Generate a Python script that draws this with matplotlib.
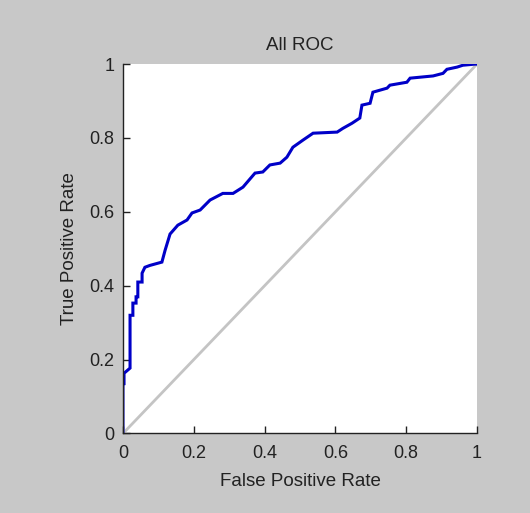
import matplotlib
matplotlib.use("Agg")
import matplotlib.pyplot as plt

# ROC curve points
fpr = [0.0, 0.0, 0.003, 0.003, 0.02, 0.02, 0.028, 0.028, 0.037, 0.037, 0.042, 0.042,
       0.054, 0.054, 0.062, 0.076, 0.11, 0.119, 0.133, 0.155, 0.181, 0.195, 0.218,
       0.246, 0.282, 0.311, 0.339, 0.373, 0.395, 0.415, 0.444, 0.463, 0.48, 0.508,
       0.537, 0.605, 0.621, 0.647, 0.669, 0.675, 0.698, 0.706, 0.746, 0.754, 0.802,
       0.811, 0.876, 0.904, 0.915, 0.944, 0.96, 0.994, 1.0]
tpr = [0.0, 0.135, 0.135, 0.163, 0.177, 0.32, 0.32, 0.353, 0.353, 0.37, 0.37, 0.41,
       0.41, 0.434, 0.45, 0.455, 0.464, 0.496, 0.54, 0.564, 0.578, 0.597, 0.605,
       0.632, 0.65, 0.65, 0.667, 0.705, 0.708, 0.727, 0.732, 0.748, 0.775, 0.794,
       0.813, 0.816, 0.826, 0.84, 0.854, 0.889, 0.894, 0.924, 0.935, 0.943, 0.951,
       0.962, 0.968, 0.975, 0.986, 0.992, 0.997, 1.0, 1.0]
chance = [0, 1]
ticks = [0, 0.2, 0.4, 0.6, 0.8, 1]
tick_labels = ["0", "0.2", "0.4", "0.6", "0.8", "1"]

plt.rcParams['font.family'] = ['Liberation Sans', 'DejaVu Sans']

fig = plt.figure(figsize=(5.30, 5.13), dpi=100, facecolor='#c8c8c8')
ax = fig.add_axes([0.232, 0.155, 0.668, 0.72])
ax.set_facecolor('white')

ax.plot(chance, chance, color='#c4c4c4', lw=2)
ax.plot(fpr, tpr, color='#0000c8', lw=2.2, solid_joinstyle='miter')

ax.set_xlim(0, 1)
ax.set_ylim(0, 1)
ax.set_xticks(ticks)
ax.set_xticklabels(tick_labels)
ax.set_yticks(ticks)
ax.set_yticklabels(tick_labels)
ax.tick_params(direction='in', length=5, width=1, labelsize=13, pad=6,
               colors='#222222', labelcolor='#222222')
ax.tick_params(axis='x', pad=8)
for s in ['top', 'right']:
    ax.spines[s].set_visible(False)
for s in ['left', 'bottom']:
    ax.spines[s].set_linewidth(1)
    ax.spines[s].set_color('#222222')

ax.set_title('All ROC', fontsize=13.5, pad=10, color='#222222')
ax.set_xlabel('False Positive Rate', fontsize=13.5, labelpad=8, color='#222222')
ax.set_ylabel('True Positive Rate', fontsize=13.5, labelpad=8, color='#222222')

fig.savefig('out.png', dpi=100, facecolor=fig.get_facecolor())
